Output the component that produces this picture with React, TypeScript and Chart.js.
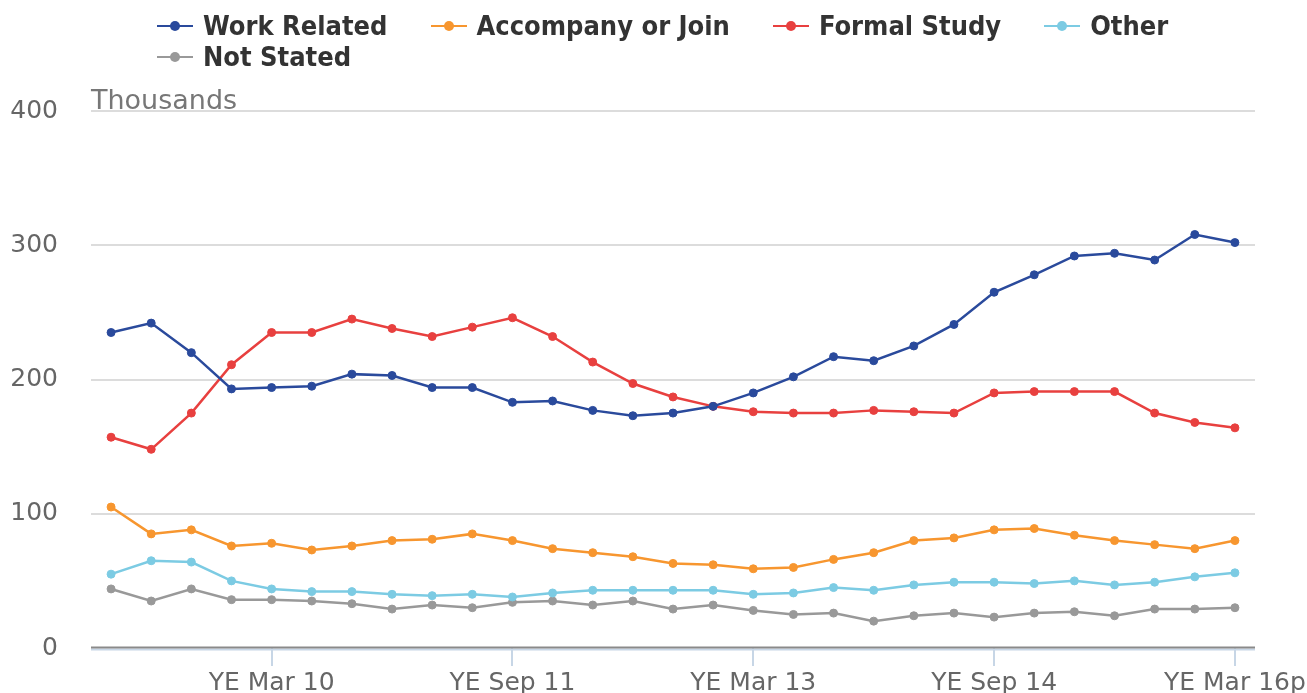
import React, { useEffect, useRef } from 'react';
import { Chart, registerables } from 'chart.js';

Chart.register(...registerables);

const categories = [
  'YE Mar 09', 'YE Jun 09', 'YE Sep 09', 'YE Dec 09',
  'YE Mar 10', 'YE Jun 10', 'YE Sep 10', 'YE Dec 10',
  'YE Mar 11', 'YE Jun 11', 'YE Sep 11', 'YE Dec 11',
  'YE Mar 12', 'YE Jun 12', 'YE Sep 12', 'YE Dec 12',
  'YE Mar 13', 'YE Jun 13', 'YE Sep 13', 'YE Dec 13',
  'YE Mar 14', 'YE Jun 14', 'YE Sep 14', 'YE Dec 14',
  'YE Mar 15', 'YE Jun 15', 'YE Sep 15', 'YE Dec 15',
  'YE Mar 16p',
];

const shownTickLabels = ['YE Mar 10', 'YE Sep 11', 'YE Mar 13', 'YE Sep 14', 'YE Mar 16p'];

const workRelated = [235, 242, 220, 193, 194, 195, 204, 203, 194, 194, 183, 184, 177, 173, 175, 180, 190, 202, 217, 214, 225, 241, 265, 278, 292, 294, 289, 308, 302];
const accompanyOrJoin = [105, 85, 88, 76, 78, 73, 76, 80, 81, 85, 80, 74, 71, 68, 63, 62, 59, 60, 66, 71, 80, 82, 88, 89, 84, 80, 77, 74, 80];
const formalStudy = [157, 148, 175, 211, 235, 235, 245, 238, 232, 239, 246, 232, 213, 197, 187, 180, 176, 175, 175, 177, 176, 175, 190, 191, 191, 191, 175, 168, 164];
const other = [55, 65, 64, 50, 44, 42, 42, 40, 39, 40, 38, 41, 43, 43, 43, 43, 40, 41, 45, 43, 47, 49, 49, 48, 50, 47, 49, 53, 56];
const notStated = [44, 35, 44, 36, 36, 35, 33, 29, 32, 30, 34, 35, 32, 35, 29, 32, 28, 25, 26, 20, 24, 26, 23, 26, 27, 24, 29, 29, 30];

const yTicks = [0, 100, 200, 300, 400];

const series = [
  { label: 'Work Related', data: workRelated, color: '#2a4a9c' },
  { label: 'Accompany or Join', data: accompanyOrJoin, color: '#f7962f' },
  { label: 'Formal Study', data: formalStudy, color: '#e8403f' },
  { label: 'Other', data: other, color: '#7ccbe3' },
  { label: 'Not Stated', data: notStated, color: '#999999' },
];

const extrasPlugin = {
  id: 'extras',
  beforeDatasetsDraw(chart: any) {
    const { ctx, chartArea } = chart;
    ctx.save();
    ctx.lineWidth = 2;
    ctx.strokeStyle = '#c7d6e6';
    ctx.beginPath();
    ctx.moveTo(chartArea.left, chartArea.bottom + 1.5);
    ctx.lineTo(chartArea.right, chartArea.bottom + 1.5);
    ctx.stroke();
    ctx.strokeStyle = '#8a8a8a';
    ctx.beginPath();
    ctx.moveTo(chartArea.left, chartArea.bottom - 0.5);
    ctx.lineTo(chartArea.right, chartArea.bottom - 0.5);
    ctx.stroke();
    ctx.fillStyle = '#777777';
    ctx.font = '27px "DejaVu Sans"';
    ctx.textBaseline = 'alphabetic';
    ctx.textAlign = 'left';
    ctx.fillText('Thousands', chartArea.left, chartArea.top - 2);
    ctx.restore();
  },
};

export default function App() {
  const canvasRef = useRef<HTMLCanvasElement | null>(null);

  useEffect(() => {
    const canvas = canvasRef.current;
    if (!canvas) return;
    const chart = new Chart(canvas, {
      type: 'line',
      data: {
        labels: categories,
        datasets: series.map((s) => ({
          label: s.label,
          data: s.data,
          borderColor: s.color,
          backgroundColor: s.color,
          pointBackgroundColor: s.color,
          pointBorderColor: s.color,
          borderWidth: 2.5,
          pointRadius: 4,
          pointBorderWidth: 1,
          tension: 0,
        })),
      },
      options: {
        responsive: false,
        animation: false,
        maintainAspectRatio: false,
        layout: { padding: { left: 0, right: 52, top: 111, bottom: 0 } },
        plugins: {
          legend: { display: false },
          tooltip: { enabled: false },
        },
        scales: {
          x: {
            offset: true,
            border: { display: false },
            grid: {
              drawOnChartArea: false,
              drawTicks: true,
              tickLength: 18,
              lineWidth: 2,
              color: (ctx: any) =>
                shownTickLabels.includes(categories[ctx.index]) ? '#c7d6e6' : 'rgba(0,0,0,0)',
            },
            ticks: {
              autoSkip: false,
              maxRotation: 0,
              minRotation: 0,
              padding: 2,
              color: '#666666',
              font: { family: '"DejaVu Sans"', size: 25 },
              callback: (_v: any, i: number) =>
                shownTickLabels.includes(categories[i]) ? categories[i] : '',
            },
            afterFit: (scale: any) => {
              scale.height = 45;
              scale.paddingLeft = 0;
              scale.paddingRight = 0;
            },
          },
          y: {
            min: 0,
            max: 400,
            border: { display: false },
            grid: {
              drawTicks: false,
              lineWidth: 2,
              color: (ctx: any) => (ctx.tick && ctx.tick.value === 0 ? 'rgba(0,0,0,0)' : '#dcdcdc'),
            },
            afterBuildTicks: (scale: any) => {
              scale.ticks = yTicks.map((v) => ({ value: v }));
            },
            ticks: {
              padding: 33,
              color: '#666666',
              font: { family: '"DejaVu Sans"', size: 25 },
            },
            afterFit: (scale: any) => {
              scale.width = 91;
              scale.paddingTop = 0;
              scale.paddingBottom = 0;
            },
          },
        },
      },
      plugins: [extrasPlugin],
    });
    return () => chart.destroy();
  }, []);

  const legendFont = '"DejaVu Sans Condensed", "DejaVu Sans", sans-serif';

  return (
    <div style={{ position: 'fixed', left: 0, top: 0, width: 1307, height: 693, background: '#ffffff' }}>
      <canvas ref={canvasRef} width={1307} height={693} style={{ position: 'absolute', left: 0, top: 0 }} />
      <div
        style={{
          position: 'absolute',
          left: 157,
          top: 10,
          width: 1100,
          display: 'flex',
          flexWrap: 'wrap',
          columnGap: 43,
          rowGap: 0,
          fontFamily: legendFont,
          fontWeight: 'bold',
          fontSize: 27,
          lineHeight: '31px',
          color: '#333333',
        }}
      >
        {series.map((s) => (
          <div key={s.label} style={{ display: 'flex', alignItems: 'center', whiteSpace: 'nowrap' }}>
            <span style={{ position: 'relative', display: 'inline-block', width: 36, height: 10, marginRight: 10 }}>
              <span style={{ position: 'absolute', left: 0, top: 4, width: 36, height: 2.5, background: s.color }} />
              <span style={{ position: 'absolute', left: 13, top: 0, width: 10, height: 10, borderRadius: 5, background: s.color }} />
            </span>
            <span>{s.label}</span>
          </div>
        ))}
      </div>
    </div>
  );
}
